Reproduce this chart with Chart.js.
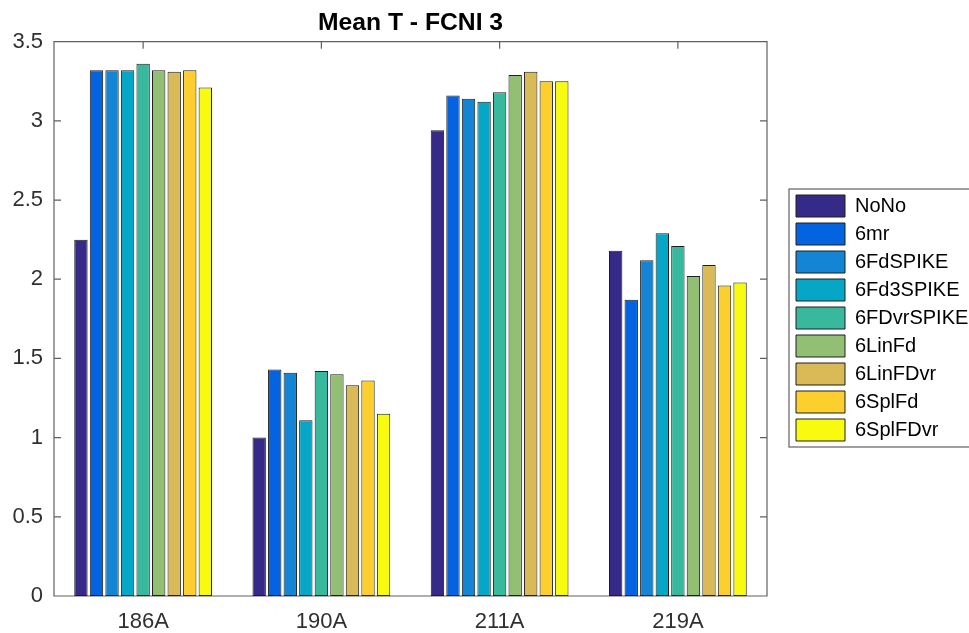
<!DOCTYPE html>
<html>
<head>
<meta charset="utf-8">
<title>Mean T - FCNI 3</title>
<script src="https://cdn.jsdelivr.net/npm/chart.js@4.4.1/dist/chart.umd.min.js"></script>
<style>
  html, body { margin: 0; padding: 0; background: #fff; }
  #wrap { width: 969px; height: 633px; }
</style>
</head>
<body>
<div id="wrap"><canvas id="myChart"></canvas></div>
<script>
const sites = ['186A', '190A', '211A', '219A'];

// one array per method, values per site
const noNo      = [2.25, 1.00, 2.94, 2.18];
const mr6       = [3.32, 1.43, 3.16, 1.87];
const fdSpike   = [3.32, 1.41, 3.14, 2.12];
const fd3Spike  = [3.32, 1.11, 3.12, 2.29];
const fdvrSpike = [3.36, 1.42, 3.18, 2.21];
const linFd     = [3.32, 1.40, 3.29, 2.02];
const linFdvr   = [3.31, 1.33, 3.31, 2.09];
const splFd     = [3.32, 1.36, 3.25, 1.96];
const splFdvr   = [3.21, 1.15, 3.25, 1.98];

const methodNames = ['NoNo', '6mr', '6FdSPIKE', '6Fd3SPIKE', '6FDvrSPIKE', '6LinFd', '6LinFDvr', '6SplFd', '6SplFDvr'];
const methodValues = [noNo, mr6, fdSpike, fd3Spike, fdvrSpike, linFd, linFdvr, splFd, splFdvr];
const colors = ['#352a87', '#0363e1', '#1485d4', '#06a7c6', '#38b99e', '#92bf73', '#d9ba56', '#fcce2e', '#f9fb0e'];

const axisColor = '#606060';
const textColor = '#303030';
const fontFamily = '"Liberation Sans", Arial, Helvetica, sans-serif';

// MATLAB style box with inward ticks, plus the legend frame
const axesBox = {
    id: 'axesBox',
    beforeDatasetsDraw(chart) {
        const {ctx, chartArea: a, scales: {x, y}} = chart;
        ctx.save();
        ctx.strokeStyle = axisColor;
        ctx.lineWidth = 1.2;
        ctx.beginPath();
        ctx.rect(a.left, a.top, a.right - a.left, a.bottom - a.top);
        y.ticks.forEach(t => {
            const py = y.getPixelForValue(t.value);
            ctx.moveTo(a.left, py); ctx.lineTo(a.left + 7, py);
            ctx.moveTo(a.right, py); ctx.lineTo(a.right - 7, py);
        });
        sites.forEach((s, i) => {
            const px = x.getPixelForTick(i);
            ctx.moveTo(px, a.top); ctx.lineTo(px, a.top + 7);
            ctx.moveTo(px, a.bottom); ctx.lineTo(px, a.bottom - 7);
        });
        ctx.stroke();
        ctx.restore();
    },
    afterDraw(chart) {
        const hb = chart.legend.legendHitBoxes;
        if (!hb || !hb.length) return;
        const first = hb[0], last = hb[hb.length - 1];
        const ctx = chart.ctx;
        ctx.save();
        ctx.strokeStyle = axisColor;
        ctx.lineWidth = 1.2;
        ctx.strokeRect(first.left - 7, first.top - 6, 300, last.top + last.height - first.top + 12);
        ctx.restore();
    }
};

const ctx = document.getElementById('myChart').getContext('2d');

const config = {
    type: 'bar',
    data: {
        labels: sites,
        datasets: methodNames.map((name, i) => ({
            label: name,
            data: methodValues[i],
            backgroundColor: colors[i],
            borderColor: '#1e1e1e',
            borderWidth: 1,
            borderSkipped: false,
            categoryPercentage: 0.785,
            barPercentage: 0.86,
        }))
    },
    options: {
        responsive: true,
        maintainAspectRatio: false,
        animation: false,
        layout: { padding: { top: 3, left: 0, right: 0, bottom: 0 } },
        scales: {
            x: {
                grid: { display: false, drawTicks: false },
                border: { display: false },
                ticks: { color: textColor, font: { family: fontFamily, size: 22 }, padding: 13 },
                afterFit: s => { s.height = 37; }
            },
            y: {
                min: 0,
                max: 3.5,
                grid: { display: false, drawTicks: false },
                border: { display: false },
                ticks: {
                    stepSize: 0.5,
                    color: textColor,
                    font: { family: fontFamily, size: 22 },
                    padding: 11,
                    callback: v => String(v)
                },
                afterFit: s => { s.width = 54; }
            },
            gap: {
                type: 'linear',
                axis: 'y',
                position: 'right',
                grid: { display: false, drawTicks: false },
                border: { display: false },
                ticks: { display: false },
                afterFit: s => { s.width = 23; }
            }
        },
        plugins: {
            title: {
                display: true,
                text: 'Mean T - FCNI 3',
                fullSize: false,
                color: '#000',
                font: { family: fontFamily, size: 24.7, weight: 'bold' },
                padding: { top: 5, bottom: 4 }
            },
            legend: {
                position: 'right',
                maxWidth: 179,
                labels: {
                    boxWidth: 49,
                    boxHeight: 22,
                    padding: 6,
                    color: '#000',
                    font: { family: fontFamily, size: 20 }
                }
            },
            tooltip: { enabled: false }
        }
    },
    plugins: [axesBox]
};

const barChart = new Chart(ctx, config);
</script>
</body>
</html>
